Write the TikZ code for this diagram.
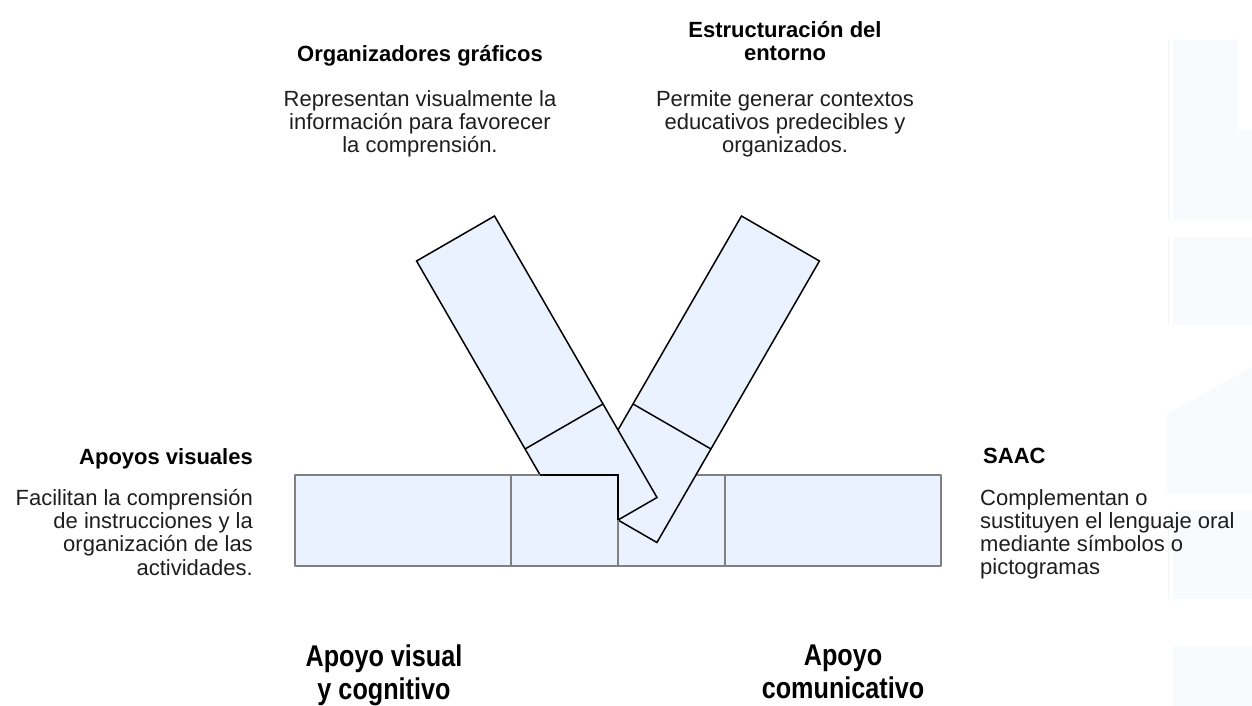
\documentclass[tikz,border=0pt]{standalone}
\usepackage{fontspec}
\setmainfont{Liberation Sans}
\newfontfamily\bigfont[FakeStretch=0.84]{Liberation Sans}
\definecolor{barfill}{HTML}{EBF2FF}
\definecolor{bargray}{HTML}{808080}
\definecolor{ghost}{HTML}{F8FAFD}
\definecolor{ghostline}{HTML}{F5F5F5}
\definecolor{txt}{HTML}{1E1E1E}
\begin{document}
\begin{tikzpicture}[x=1pt,y=-1pt,
  flatbox/.style={fill=barfill, draw=bargray, line width=2pt, line join=round},
  tiltbox/.style={fill=barfill, draw=black, line width=1.5pt, line join=miter},
  divline/.style={draw=black, line width=1.5pt},
  body/.style={font=\fontsize{22}{23.2}\selectfont, inner sep=0pt, text=txt},
  head/.style={font=\fontsize{22}{23.2}\selectfont\bfseries, inner sep=0pt, text=black},
  big/.style={font=\bigfont\fontsize{30}{33}\selectfont\bfseries, inner sep=0pt, text=black, align=center}]
\useasboundingbox (0,0) rectangle (1252,706);
\fill[white] (0,0) rectangle (1252,706);

% faint background shapes at the right edge
\fill[ghost] (1173,40) -- (1237,40) -- (1237,130) -- (1252,130) -- (1252,220) -- (1173,220) -- cycle;
\fill[ghost] (1173,237) rectangle (1252,325);
\fill[ghost] (1167,414) -- (1252,367) -- (1252,493) -- (1167,493) -- cycle;
\fill[ghost] (1173,511) rectangle (1252,599);
\fill[ghost] (1173,646) rectangle (1252,706);
\draw[ghostline, line width=1pt] (1168,40) -- (1168,220);
\draw[ghostline, line width=1pt] (1168,237) -- (1168,325);
\draw[ghostline, line width=1pt] (1168,511) -- (1168,599);

% bottom bar
\draw[flatbox] (295,475) rectangle (511,566);
\draw[flatbox] (618,475) rectangle (725,566);
\draw[flatbox] (725,475) rectangle (941,566);

% right tilted bar
\coordinate (rBL) at (579,497.5);
\coordinate (rBR) at (656.94,542.5);
\coordinate (rTR) at (819.44,261);
\coordinate (rTL) at (741.5,216);
\coordinate (rDa) at (633,403.97);
\coordinate (rDb) at (710.94,448.97);
\draw[tiltbox] (rBL) -- (rBR) -- (rTR) -- (rTL) -- cycle;
\draw[divline] (rDa) -- (rDb);

% left tilted bar
\coordinate (lBR) at (657,497.5);
\coordinate (lBL) at (579.06,542.5);
\coordinate (lTL) at (416.56,261);
\coordinate (lTR) at (494.5,216);
\coordinate (lDa) at (603,403.97);
\coordinate (lDb) at (525.06,448.97);
\draw[tiltbox] (lBR) -- (lBL) -- (lTL) -- (lTR) -- cycle;
\draw[divline] (lDa) -- (lDb);

% square over the left bar
\draw[flatbox] (511,475) rectangle (618,566);
\coordinate (cutA) at (540.1,475);
\coordinate (cutB) at (618,475);
\coordinate (cutC) at (618,520);
\draw[black, line width=1.7pt, line join=miter] (cutA) -- (cutB) -- (cutC);

% texts
\node[head, anchor=north] (ogTitle) at (420,45) {Organizadores gráficos};
\node[body, anchor=north, align=center] (ogText) at (420,90)
  {Representan visualmente la\\información para favorecer\\la comprensión.};
\node[head, anchor=north, align=center] (etTitle) at (785,21)
  {Estructuración del\\entorno};
\node[body, anchor=north, align=center] (etText) at (785,90)
  {Permite generar contextos\\educativos predecibles y\\organizados.};
\node[head, anchor=north east] (avTitle) at (253,448) {Apoyos visuales};
\node[body, anchor=north east, align=right] (avText) at (253,489)
  {Facilitan la comprensión\\de instrucciones y la\\organización de las\\actividades.};
\node[head, anchor=north west] (saacTitle) at (983,448) {SAAC};
\node[body, anchor=north west, align=left] (saacText) at (980,489)
  {Complementan o\\sustituyen el lenguaje oral\\mediante símbolos o\\pictogramas};
\node[big, anchor=north] (bigL) at (384,645) {Apoyo visual\\y cognitivo};
\node[big, anchor=north] (bigR) at (843,645) {Apoyo\\comunicativo};
\end{tikzpicture}
\end{document}
